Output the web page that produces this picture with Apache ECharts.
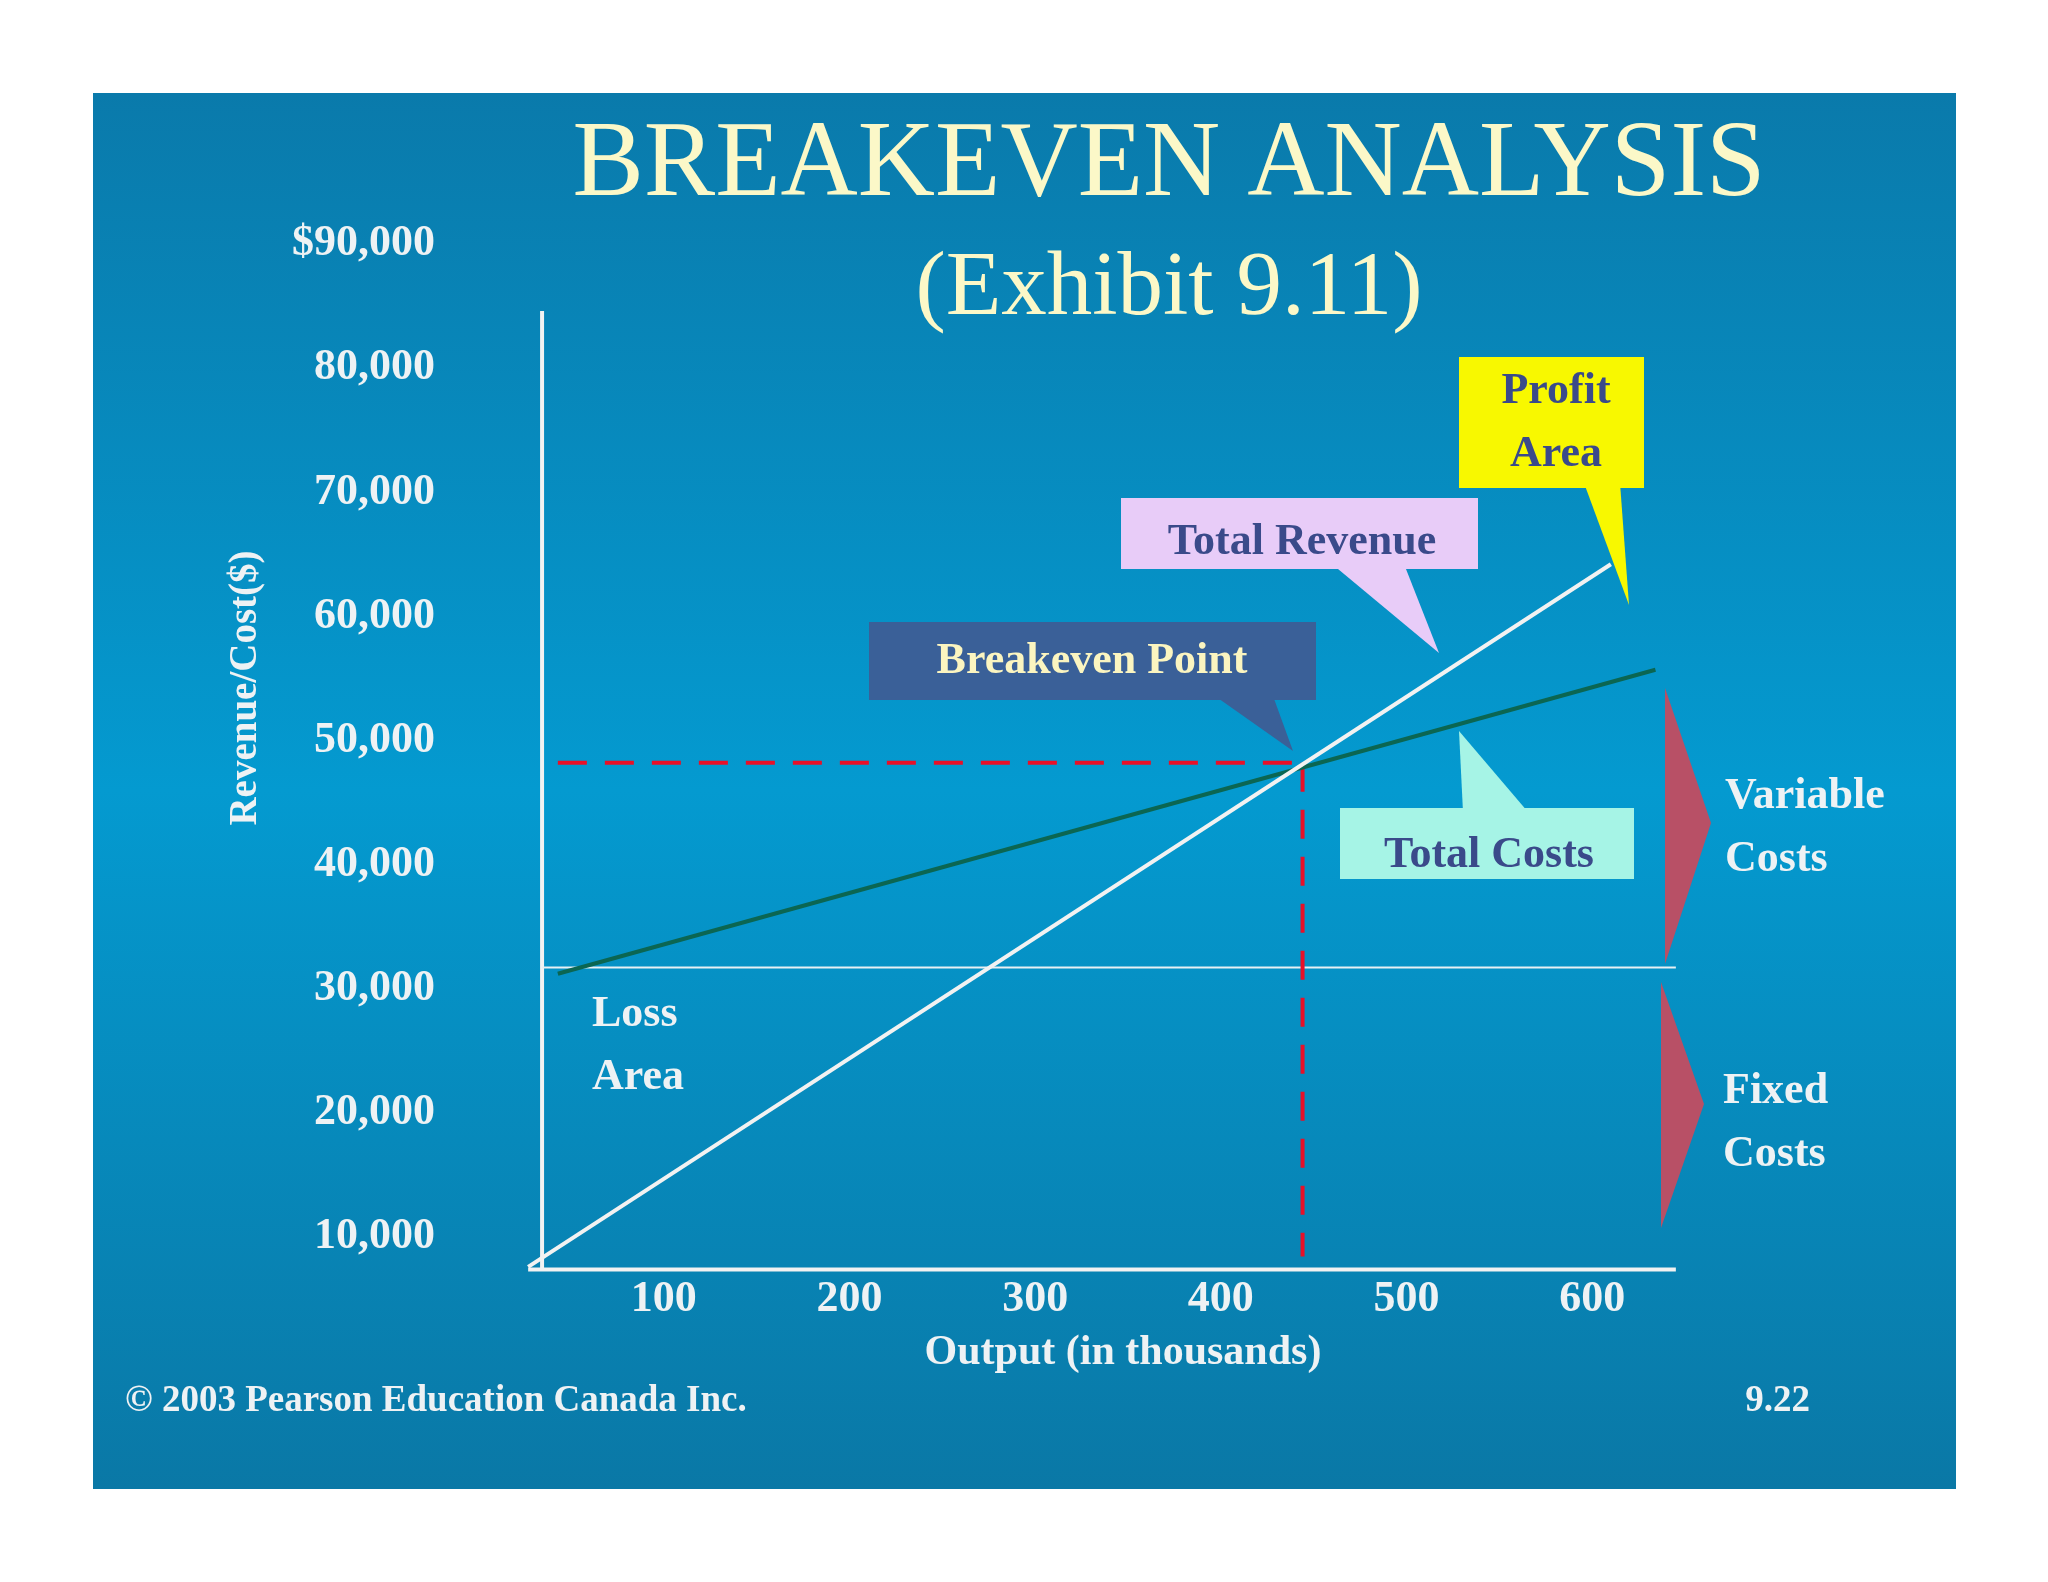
<!DOCTYPE html>
<html>
<head>
<meta charset="utf-8">
<script src="https://cdn.jsdelivr.net/npm/echarts@6/dist/echarts.min.js"></script>
<style>html,body{margin:0;padding:0;background:#fff}#c{width:2048px;height:1582px}</style>
</head>
<body>
<div id="c"></div>
<script>
// data (output in thousands, $)
const revenueLine = [[27, 7580], [610, 64200]];
const costLine = [[43, 31200], [634, 55700]];
const fixedLine = [[34.5, 31700], [645, 31700]];
const breakeven = [444, 48200];
const xAxisLine = [[27, 7370], [645, 7370]];
const yAxisLine = [[34.5, 7370], [34.5, 84600]];

const k = 2048 / 1568;
const p = v => Math.round(v * k);
const serif = '"Liberation Serif", "DejaVu Serif", serif';
const labelCol = '#eef2f4';
const darkText = '#3a4a8a';

const chart = echarts.init(document.getElementById('c'));

function box(x1, y1, x2, y2, fill, ptr, text, col, tx, ty) {
    return [
        { type: 'polygon', z: 50, shape: { points: ptr.map(q => [p(q[0]), p(q[1])]) }, style: { fill } },
        { type: 'rect', z: 51, shape: { x: p(x1), y: p(y1), width: p(x2 - x1), height: p(y2 - y1) }, style: { fill } },
        { type: 'text', z: 52, x: p(tx), y: p(ty), style: { text, fill: col, font: 'bold ' + p(34) + 'px ' + serif, align: 'center', verticalAlign: 'middle', lineHeight: p(48) } }
    ];
}

function label(text, x, y, align) {
    return { type: 'text', z: 52, x: p(x), y: p(y), style: { text, fill: labelCol, font: 'bold ' + p(34) + 'px ' + serif, align: align || 'left', verticalAlign: 'middle', lineHeight: p(48) } };
}

const graphic = [
    { type: 'rect', z: -10, shape: { x: p(71), y: p(71), width: p(1426), height: p(1069) },
      style: { fill: new echarts.graphic.LinearGradient(0, 0, 0, 1, [
        { offset: 0, color: '#0a7aab' }, { offset: 0.5, color: '#049ad0' }, { offset: 1, color: '#0a78a6' }]) } },
    { type: 'text', x: p(895), y: p(128), style: { text: 'BREAKEVEN ANALYSIS', fill: '#fbf8c8', font: p(82) + 'px ' + serif, align: 'center', verticalAlign: 'middle' } },
    { type: 'text', x: p(895), y: p(222), style: { text: '(Exhibit 9.11)', fill: '#fbf8c8', font: p(70) + 'px ' + serif, align: 'center', verticalAlign: 'middle' } },
    { type: 'text', x: p(188), y: p(527), rotation: Math.PI / 2, style: { text: 'Revenue/Cost($)', fill: labelCol, font: 'bold ' + p(30) + 'px ' + serif, align: 'center', verticalAlign: 'middle' } },
    { type: 'text', x: p(860), y: p(1036), style: { text: 'Output (in thousands)', fill: labelCol, font: 'bold ' + p(32) + 'px ' + serif, align: 'center', verticalAlign: 'middle' } },
    { type: 'text', x: p(96), y: p(1073), style: { text: '© 2003 Pearson Education Canada Inc.', fill: labelCol, font: 'bold ' + p(28) + 'px ' + serif, align: 'left', verticalAlign: 'middle' } },
    { type: 'text', x: p(1386), y: p(1073), style: { text: '9.22', fill: labelCol, font: 'bold ' + p(28) + 'px ' + serif, align: 'right', verticalAlign: 'middle' } },
    label('Loss\nArea', 453, 801),
    label('Variable\nCosts', 1321, 634),
    label('Fixed\nCosts', 1319, 860),
    { type: 'polygon', z: 50, shape: { points: [[p(1275), p(527)], [p(1310), p(630)], [p(1275), p(738)]] }, style: { fill: '#b85066' } },
    { type: 'polygon', z: 50, shape: { points: [[p(1272), p(752)], [p(1305), p(845)], [p(1272), p(940)]] }, style: { fill: '#b85066' } },
    ...box(1117, 273, 1259, 373, '#f8f800', [[1213, 370], [1240, 370], [1247, 463]], 'Profit\nArea', darkText, 1191, 324),
    ...box(858, 381, 1131, 435, '#e8ccf8', [[1020, 432], [1075, 432], [1102, 500]], 'Total Revenue', darkText, 997, 416),
    ...box(665, 476, 1007, 536, '#3a6098', [[930, 533], [975, 533], [990, 575]], 'Breakeven Point', '#fbf5c0', 836, 507),
    ...box(1026, 619, 1251, 673, '#a6f4e6', [[1120, 622], [1170, 622], [1117, 560]], 'Total Costs', darkText, 1140, 655)
];

function line(data, color, width, type) {
    return { type: 'line', data, symbol: 'none', silent: true, animation: false,
        lineStyle: { color, width, type: type || 'solid' } };
}

chart.setOption({
    animation: false,
    grid: { left: p(366), right: 2048 - p(1361), top: p(187), bottom: 1582 - p(1042) },
    xAxis: { type: 'value', min: 0, max: 700, interval: 100,
        axisLine: { show: false }, axisTick: { show: false }, splitLine: { show: false },
        axisLabel: { margin: -p(47), verticalAlign: 'middle', color: labelCol, fontFamily: serif, fontWeight: 'bold', fontSize: p(34),
            formatter: v => (v > 0 && v < 700 ? String(v) : '') } },
    yAxis: { type: 'value', min: 0, max: 90000, interval: 10000,
        axisLine: { show: false }, axisTick: { show: false }, splitLine: { show: false },
        axisLabel: { margin: p(33), color: labelCol, fontFamily: serif, fontWeight: 'bold', fontSize: p(34),
            formatter: v => v === 0 ? '' : (v === 90000 ? '$' : '') + v.toLocaleString('en-US') } },
    graphic,
    series: [
        line(yAxisLine, '#f2f2f2', 4),
        line(xAxisLine, '#f2f2f2', 4),
        line(fixedLine, '#e8f0f4', 2),
        line([[43, breakeven[1]], breakeven], '#e81028', 4, [p(22), p(14)]),
        line([breakeven, [breakeven[0], 8420]], '#e81028', 4, [p(22), p(14)]),
        line(costLine, '#0b6652', 4),
        line(revenueLine, '#f2f2f2', 4)
    ]
});
</script>
</body>
</html>
